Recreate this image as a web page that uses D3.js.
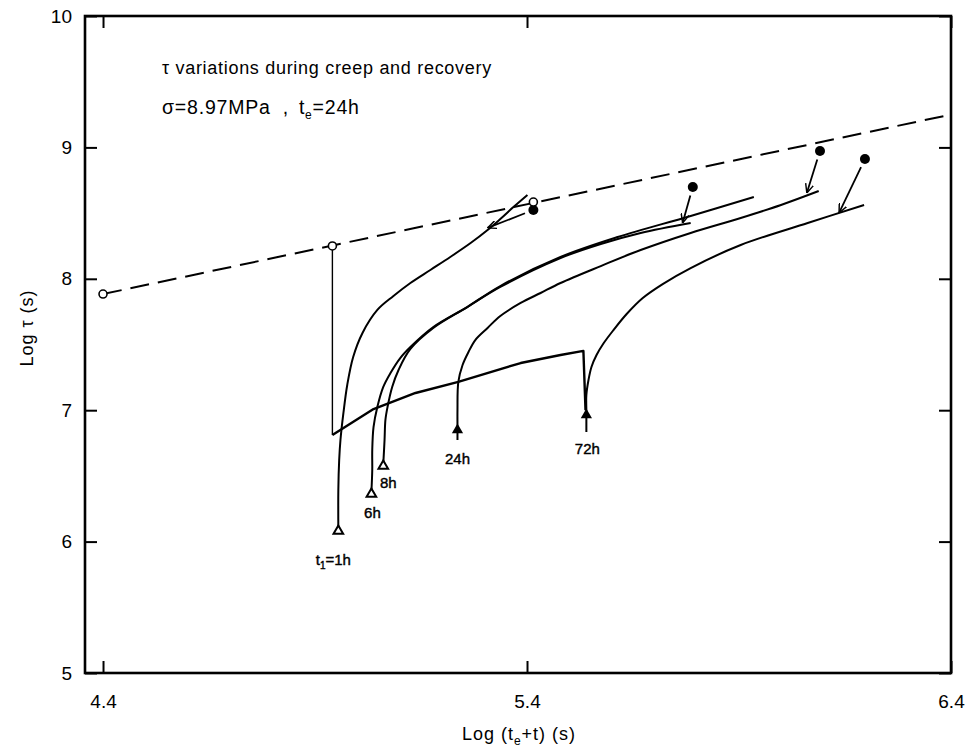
<!DOCTYPE html>
<html>
<head>
<meta charset="utf-8">
<script src="https://cdn.jsdelivr.net/npm/d3@7/dist/d3.min.js"></script>
<style>
  html, body { margin: 0; padding: 0; background: #fff; }
  svg { display: block; font-family: "Liberation Sans", Arial, sans-serif; }
</style>
</head>
<body>
<svg id="chart" width="966" height="747"></svg>
<script>
// Axis ticks
const xTicks = [4.4, 5.4, 6.4];
const yTicks = [5, 6, 7, 8, 9, 10];

// Upper bound line (dashed) and its open-circle points
const boundLine = [[4.4, 7.884], [6.4, 9.25]];
const openPoints = [[4.4, 7.884], [4.941, 8.25], [5.415, 8.584]];

// End-of-recovery values (filled dots) and where each arrow points
const endPoints = [[5.415, 8.524], [5.791, 8.699], [6.091, 8.973], [6.197, 8.912]];
const endArrowTips = [[5.307, 8.387], [5.767, 8.425], [6.060, 8.653], [6.136, 8.501]];

// Creep curve: drop at t1 = 1h, rise during creep, drop at 72h
const creepDrop = [[4.941, 8.25], [4.941, 6.811]];
const creepCurve = [[4.941, 6.811], [5.038, 7.009], [5.137, 7.131], [5.238, 7.215],
                    [5.385, 7.359], [5.479, 7.420], [5.533, 7.451], [5.538, 7.0]];

// Recovery curves
const rec1h = [[4.955, 6.096], [4.955, 6.393], [4.957, 6.621], [4.960, 6.773], [4.967, 6.979],
               [4.976, 7.192], [4.990, 7.405], [5.012, 7.588], [5.047, 7.763], [5.085, 7.869],
               [5.125, 7.968], [5.172, 8.067], [5.219, 8.166], [5.267, 8.272], [5.307, 8.371],
               [5.337, 8.455], [5.368, 8.546], [5.401, 8.638]];
const rec6h = [[5.033, 6.378], [5.035, 6.545], [5.035, 6.697], [5.038, 6.872], [5.047, 7.024],
               [5.061, 7.177], [5.078, 7.283], [5.101, 7.397], [5.125, 7.481], [5.179, 7.633],
               [5.259, 7.785], [5.337, 7.938], [5.479, 8.158], [5.574, 8.265], [5.668, 8.349],
               [5.786, 8.425]];
const rec8h = [[5.061, 6.591], [5.064, 6.773], [5.066, 6.925], [5.071, 7.024], [5.082, 7.177],
               [5.097, 7.306], [5.125, 7.466], [5.179, 7.626], [5.259, 7.785], [5.337, 7.945],
               [5.479, 8.166], [5.614, 8.318], [5.786, 8.478], [5.935, 8.623]];
const rec24h = [[5.236, 6.773], [5.236, 6.872], [5.236, 7.002], [5.238, 7.215], [5.248, 7.344],
                [5.262, 7.443], [5.278, 7.534], [5.307, 7.626], [5.337, 7.717], [5.385, 7.816],
                [5.432, 7.892], [5.479, 7.968], [5.574, 8.097], [5.668, 8.219], [5.786, 8.349],
                [5.904, 8.463], [5.999, 8.562], [6.088, 8.668]];
const rec72h = [[5.540, 6.834], [5.540, 6.986], [5.540, 7.116], [5.545, 7.230], [5.552, 7.329],
                [5.564, 7.420], [5.581, 7.511], [5.604, 7.610], [5.635, 7.732], [5.673, 7.854],
                [5.720, 7.960], [5.786, 8.082], [5.904, 8.257], [6.062, 8.425], [6.195, 8.562]];

// Start markers of recovery
const openStarts = [[4.955, 6.096], [5.033, 6.378], [5.061, 6.591]];
const arrowStarts = [[5.236, 6.872], [5.540, 6.986]];
const startLabels = [
  { main: "t", sub: "1", rest: "=1h", at: [4.955, 6.096], dx: -5, dy: 36 },
  { main: "6h", at: [5.033, 6.378], dx: 1, dy: 26 },
  { main: "8h", at: [5.061, 6.591], dx: 5, dy: 24 },
  { main: "24h", at: [5.236, 6.773], dx: 0, dy: 24 },
  { main: "72h", at: [5.540, 6.834], dx: 1, dy: 22 }
];

const plot = { left: 85, right: 951, top: 16, bottom: 673 };

const svg = d3.select("#chart");
const x = d3.scaleLinear().domain([4.3575, 6.4]).range([plot.left, plot.right]);
const y = d3.scaleLinear().domain([5, 10]).range([plot.bottom, plot.top]);

const line = d3.line().x(d => x(d[0])).y(d => y(d[1]));
const smooth = d3.line().x(d => x(d[0])).y(d => y(d[1])).curve(d3.curveCatmullRom.alpha(0.5));

// Arrow marker (open V)
svg.append("defs").append("marker")
  .attr("id", "vhead").attr("viewBox", "0 0 10 10")
  .attr("refX", 10).attr("refY", 5)
  .attr("markerWidth", 9).attr("markerHeight", 9)
  .attr("markerUnits", "userSpaceOnUse")
  .attr("orient", "auto")
  .append("path").attr("d", "M0,0.5 L10,5 L0,9.5")
  .attr("fill", "none").attr("stroke", "#000").attr("stroke-width", 1.6);

// Frame
svg.append("rect")
  .attr("x", plot.left).attr("y", plot.top)
  .attr("width", plot.right - plot.left).attr("height", plot.bottom - plot.top)
  .attr("fill", "none").attr("stroke", "#000").attr("stroke-width", 2.6);

// Axes: inward ticks on all sides
const tickLen = 12;
const axisB = d3.axisBottom(x).tickValues(xTicks).tickSize(-tickLen).tickPadding(22).tickFormat(d3.format(".1f"));
const axisT = d3.axisTop(x).tickValues(xTicks).tickSize(-tickLen).tickFormat("");
const axisL = d3.axisLeft(y).tickValues(yTicks).tickSize(-tickLen).tickPadding(13).tickFormat(d3.format("d"));
const axisR = d3.axisRight(y).tickValues(yTicks).tickSize(-tickLen).tickFormat("");

function styleAxis(g) {
  g.select(".domain").remove();
  g.selectAll(".tick line").attr("stroke", "#000").attr("stroke-width", 2);
  g.selectAll(".tick text").attr("fill", "#000").attr("font-size", 19)
    .attr("font-family", "'Liberation Sans', Arial, sans-serif");
}
svg.append("g").attr("transform", `translate(0,${plot.bottom})`).call(axisB).call(styleAxis);
svg.append("g").attr("transform", `translate(0,${plot.top})`).call(axisT).call(styleAxis);
svg.append("g").attr("transform", `translate(${plot.left},0)`).call(axisL).call(styleAxis);
svg.append("g").attr("transform", `translate(${plot.right},0)`).call(axisR).call(styleAxis);

// Axis titles
const xt = svg.append("text").attr("x", 519).attr("y", 740).attr("text-anchor", "middle")
  .attr("font-size", 18).attr("letter-spacing", 1);
xt.append("tspan").text("Log (t");
xt.append("tspan").attr("font-size", 12).attr("dy", 5).text("e");
xt.append("tspan").attr("dy", -5).text("+t) (s)");

svg.append("text")
  .attr("transform", "translate(33,328) rotate(-90)")
  .attr("text-anchor", "middle").attr("font-size", 18).attr("letter-spacing", 1)
  .text("Log \u03C4 (s)");

// Annotation text
svg.append("text").attr("x", 162).attr("y", 74).attr("font-size", 18).attr("letter-spacing", 0.7)
  .text("\u03C4 variations during creep and recovery");
const t2 = svg.append("text").attr("x", 162).attr("y", 114).attr("font-size", 19.5).attr("letter-spacing", 0.8);
t2.append("tspan").text("\u03C3=8.97MPa");
t2.append("tspan").attr("dx", 12).text(",");
t2.append("tspan").attr("dx", 10).text("t");
t2.append("tspan").attr("font-size", 12).attr("dy", 5).text("e");
t2.append("tspan").attr("dy", -5).text("=24h");

// Dashed bound line
svg.append("path").datum(boundLine).attr("d", line)
  .attr("fill", "none").attr("stroke", "#000").attr("stroke-width", 2)
  .attr("stroke-dasharray", "19,9");

// Creep curve
svg.append("path").datum(creepDrop).attr("d", line)
  .attr("fill", "none").attr("stroke", "#000").attr("stroke-width", 1.4);
svg.append("path").datum(creepCurve).attr("d", line)
  .attr("fill", "none").attr("stroke", "#000").attr("stroke-width", 2.4)
  .attr("stroke-linejoin", "round");

// Recovery curves
[rec1h, rec6h, rec8h, rec24h, rec72h].forEach(c => {
  svg.append("path").datum(c).attr("d", smooth)
    .attr("fill", "none").attr("stroke", "#000").attr("stroke-width", 2)
    .attr("stroke-linejoin", "round");
});

// Open start triangles
svg.selectAll(".otri").data(openStarts).join("path")
  .attr("transform", d => `translate(${x(d[0])},${y(d[1]) + 2})`)
  .attr("d", d3.symbol(d3.symbolTriangle, 40))
  .attr("fill", "#fff").attr("stroke", "#000").attr("stroke-width", 2);

// Filled arrowheads at 24h and 72h
svg.selectAll(".ftri").data(arrowStarts).join("path")
  .attr("transform", d => `translate(${x(d[0])},${y(d[1]) + 3})`)
  .attr("d", d3.symbol(d3.symbolTriangle, 55))
  .attr("fill", "#000");

// Start labels
startLabels.forEach(l => {
  const t = svg.append("text")
    .attr("x", x(l.at[0]) + l.dx).attr("y", y(l.at[1]) + l.dy)
    .attr("text-anchor", "middle").attr("font-size", 15)
    .attr("stroke", "#000").attr("stroke-width", 0.4);
  t.append("tspan").text(l.main);
  if (l.sub) {
    t.append("tspan").attr("font-size", 10).attr("dy", 4).text(l.sub);
    t.append("tspan").attr("dy", -4).text(l.rest);
  }
});

// Arrows from end dots
function arrowStart(d, i) {
  const tip = endArrowTips[i];
  const dx = x(tip[0]) - x(d[0]), dy = y(tip[1]) - y(d[1]);
  const L = Math.hypot(dx, dy);
  return [x(d[0]) + dx / L * 9, y(d[1]) + dy / L * 9];
}
svg.selectAll(".earrow").data(endPoints).join("line")
  .attr("x1", (d, i) => arrowStart(d, i)[0])
  .attr("y1", (d, i) => arrowStart(d, i)[1])
  .attr("x2", (d, i) => x(endArrowTips[i][0]))
  .attr("y2", (d, i) => y(endArrowTips[i][1]))
  .attr("stroke", "#000").attr("stroke-width", 1.8)
  .attr("marker-end", "url(#vhead)");

// End dots
svg.selectAll(".edot").data(endPoints).join("circle")
  .attr("cx", d => x(d[0])).attr("cy", d => y(d[1])).attr("r", 5)
  .attr("fill", "#000");

// Open circles on the bound line
svg.selectAll(".ocirc").data(openPoints).join("circle")
  .attr("cx", d => x(d[0])).attr("cy", d => y(d[1])).attr("r", 4)
  .attr("fill", "#fff").attr("stroke", "#000").attr("stroke-width", 1.6);
</script>
</body>
</html>
